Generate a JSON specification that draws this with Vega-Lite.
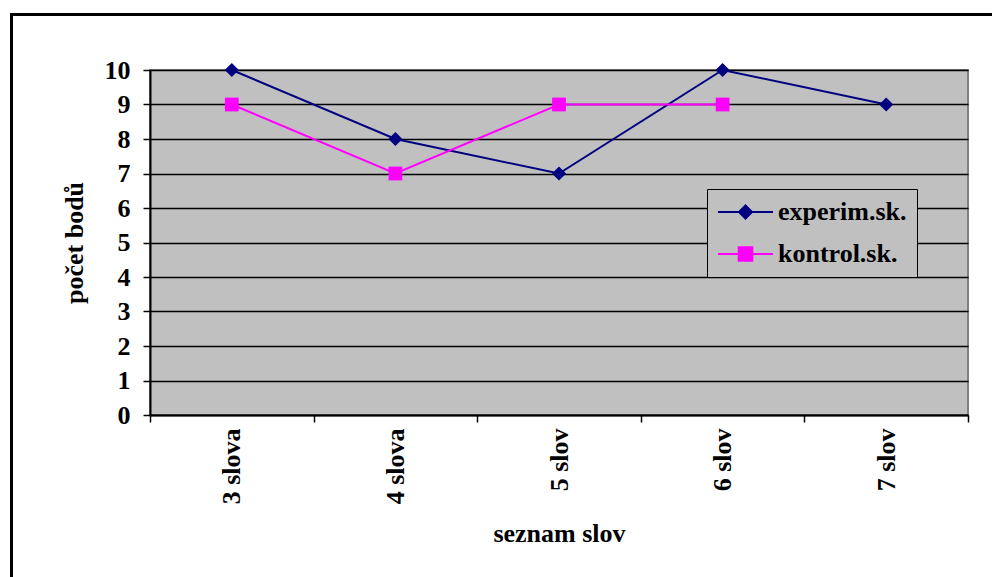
{
  "$schema": "https://vega.github.io/schema/vega-lite/v6.json",
  "width": 818,
  "height": 345,
  "autosize": {"type": "none"},
  "padding": {"left": 150, "top": 70, "right": 24, "bottom": 162},
  "background": "white",
  "config": {
    "font": "Liberation Serif",
    "view": {"fill": "#C0C0C0", "stroke": "#808080", "strokeWidth": 2},
    "axis": {
      "labelFont": "Liberation Serif",
      "labelFontWeight": "bold",
      "labelColor": "black",
      "titleFont": "Liberation Serif",
      "titleFontWeight": "bold",
      "titleColor": "black",
      "domainColor": "black",
      "domainWidth": 2,
      "tickColor": "black",
      "tickWidth": 1.5,
      "tickSize": 7
    },
    "legend": {
      "orient": "none",
      "legendX": 557,
      "legendY": 119,
      "padding": 10,
      "fillColor": "#C0C0C0",
      "strokeColor": "black",
      "symbolSize": 169,
      "symbolOpacity": 1,
      "symbolStrokeWidth": 2,
      "symbolOffset": 15.5,
      "labelOffset": 19.5,
      "labelFont": "Liberation Serif",
      "labelFontWeight": "bold",
      "labelFontSize": 26,
      "labelColor": "black",
      "labelLimit": 300,
      "rowPadding": 16
    }
  },
  "data": {
    "values": [
      {"seznam": "3 slova", "skupina": "experim.sk.", "body": 10},
      {"seznam": "4 slova", "skupina": "experim.sk.", "body": 8},
      {"seznam": "5 slov", "skupina": "experim.sk.", "body": 7},
      {"seznam": "6 slov", "skupina": "experim.sk.", "body": 10},
      {"seznam": "7 slov", "skupina": "experim.sk.", "body": 9},
      {"seznam": "3 slova", "skupina": "kontrol.sk.", "body": 9},
      {"seznam": "4 slova", "skupina": "kontrol.sk.", "body": 7},
      {"seznam": "5 slov", "skupina": "kontrol.sk.", "body": 9},
      {"seznam": "6 slov", "skupina": "kontrol.sk.", "body": 9}
    ]
  },
  "encoding": {
    "x": {
      "field": "seznam",
      "type": "nominal",
      "sort": null,
      "scale": {"paddingInner": 0, "paddingOuter": 0},
      "axis": {
        "title": "seznam slov",
        "titleFontSize": 26,
        "titlePadding": 17,
        "labelFontSize": 26,
        "labelAngle": 270,
        "labelPadding": 6,
        "tickBand": "extent",
        "grid": false
      }
    },
    "y": {
      "field": "body",
      "type": "quantitative",
      "scale": {"domain": [0, 10], "nice": false},
      "axis": {
        "title": "počet bodů",
        "titleFontSize": 26,
        "titlePadding": 17,
        "labelFontSize": 26,
        "labelPadding": 13,
        "values": [0, 1, 2, 3, 4, 5, 6, 7, 8, 9, 10],
        "grid": true,
        "gridColor": "black",
        "gridWidth": 1.6,
        "gridOpacity": 1
      }
    }
  },
  "layer": [
    {
      "data": {"values": [{"ramecek": 1}]},
      "mark": {"type": "rect", "fill": null, "stroke": "black", "strokeWidth": 3},
      "encoding": {
        "x": {"value": -138.5},
        "x2": {"value": {"expr": "width + 100"}},
        "y": {"value": -55.5},
        "y2": {"value": {"expr": "height + 200"}}
      }
    },
    {
      "transform": [{"filter": "datum.skupina === 'experim.sk.'"}],
      "mark": {"type": "line", "strokeWidth": 2, "color": "#000080"},
      "encoding": {}
    },
    {
      "transform": [{"filter": "datum.skupina === 'kontrol.sk.'"}],
      "mark": {"type": "line", "strokeWidth": 2, "color": "#FF00FF"},
      "encoding": {}
    },
    {
      "transform": [{"filter": "datum.skupina === 'experim.sk.'"}],
      "mark": {"type": "point", "filled": true, "opacity": 1, "size": 200, "color": "#000080", "shape": "M0,-1L1,0L0,1L-1,0Z"},
      "encoding": {}
    },
    {
      "transform": [{"filter": "datum.skupina === 'kontrol.sk.'"}],
      "mark": {"type": "point", "filled": true, "opacity": 1, "size": 190, "color": "#FF00FF", "shape": "square"},
      "encoding": {}
    },
    {
      "mark": {"type": "point", "filled": true, "opacity": 0, "size": 169, "strokeWidth": 2},
      "encoding": {
        "shape": {
          "field": "skupina",
          "type": "nominal",
          "scale": {
            "domain": ["experim.sk.", "kontrol.sk."],
            "range": [
              "M-4.23,0L4.23,0M0,-1L1,0L0,1L-1,0Z",
              "M-4.23,0L4.23,0M-1.05,-1.05L1.05,-1.05L1.05,1.05L-1.05,1.05Z"
            ]
          },
          "legend": {"title": null}
        },
        "fill": {
          "field": "skupina",
          "type": "nominal",
          "scale": {"domain": ["experim.sk.", "kontrol.sk."], "range": ["#000080", "#FF00FF"]},
          "legend": {"title": null}
        },
        "stroke": {
          "field": "skupina",
          "type": "nominal",
          "scale": {"domain": ["experim.sk.", "kontrol.sk."], "range": ["#000080", "#FF00FF"]},
          "legend": {"title": null}
        }
      }
    }
  ]
}
